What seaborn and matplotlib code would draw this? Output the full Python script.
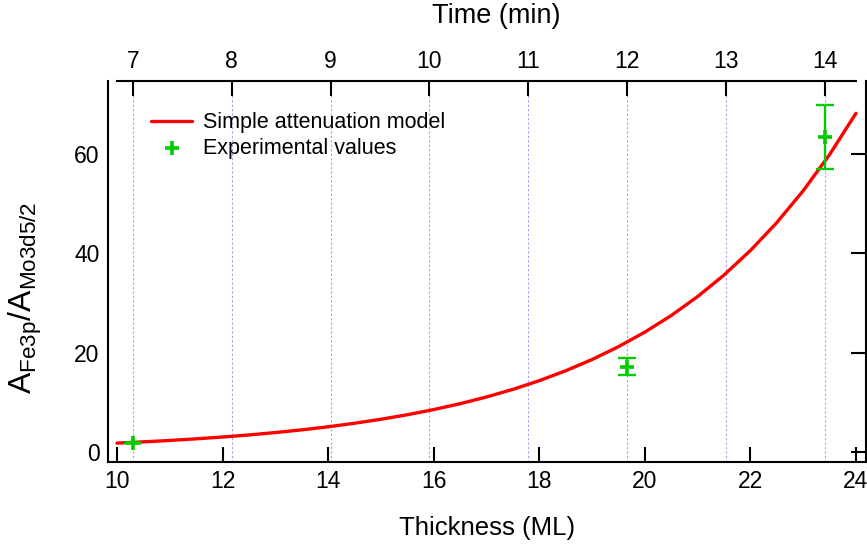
import numpy as np
import pandas as pd
import matplotlib
matplotlib.use("Agg")
import matplotlib.pyplot as plt
import seaborn as sns

# Simple attenuation model: signal ratio vs. film thickness (ML)
model_thickness = [10.0, 10.5, 11.0, 11.5, 12.0, 12.5, 13.0, 13.5, 14.0, 14.5,
                   15.0, 15.5, 16.0, 16.5, 17.0, 17.5, 18.0, 18.5, 19.0, 19.5,
                   20.0, 20.5, 21.0, 21.5, 22.0, 22.5, 23.0, 23.5, 24.0]
model_ratio = [1.80, 2.05, 2.33, 2.66, 3.02, 3.44, 3.92, 4.46, 5.08, 5.79,
               6.59, 7.50, 8.54, 9.72, 11.07, 12.60, 14.35, 16.34, 18.60, 21.18,
               24.11, 27.45, 31.26, 35.59, 40.52, 46.13, 52.53, 59.81, 68.10]

# Measured intensity ratios with uncertainties
exp_thickness = [10.30, 19.66, 23.41]
exp_ratio = [1.9, 17.2, 63.3]
exp_err = [0.0, 1.7, 6.4]

# Deposition time axis (top)
time_ticks = [7, 8, 9, 10, 11, 12, 13, 14]
thickness_at_7min = 10.303
rate_ml_per_min = 1.872

x_ticks = [10, 12, 14, 16, 18, 20, 22, 24]
y_ticks = [0, 20, 40, 60]

RED = "#ff0000"
GREEN = "#00cc00"
GRID = "#a0a0ff"

sns.set_style("white")
plt.rcParams["font.family"] = ["Liberation Sans", "DejaVu Sans"]
plt.rcParams["mathtext.fontset"] = "custom"
plt.rcParams["mathtext.rm"] = "Liberation Sans"
plt.rcParams["mathtext.it"] = "Liberation Sans:italic"
plt.rcParams["text.color"] = "black"
plt.rcParams["axes.labelcolor"] = "black"
plt.rcParams["xtick.color"] = "black"
plt.rcParams["ytick.color"] = "black"

fig = plt.figure(figsize=(8.67, 5.51), dpi=100)
ax = fig.add_axes([108 / 867, 1 - 462 / 551, 758 / 867, 381 / 551])

time_pos = [thickness_at_7min + (t - 7) * rate_ml_per_min for t in time_ticks]
for xp in time_pos:
    ax.axvline(xp, color=GRID, lw=0.8, ls=(0, (2, 2)), zorder=0)

model_df = pd.DataFrame({"thickness": model_thickness, "ratio": model_ratio})
sns.lineplot(data=model_df, x="thickness", y="ratio", ax=ax, color=RED,
             lw=2.4, label="Simple attenuation model", zorder=3)

ax.errorbar(exp_thickness, exp_ratio, yerr=exp_err, fmt="none", ecolor=GREEN,
            elinewidth=1.7, capsize=6.5, capthick=1.7, zorder=4)
exp_df = pd.DataFrame({"thickness": exp_thickness, "ratio": exp_ratio})
sns.scatterplot(data=exp_df, x="thickness", y="ratio", ax=ax, marker="+",
                s=110, color=GREEN, linewidth=2.6, label="Experimental values",
                zorder=5)

ax.set_xlim(9.83, 24.19)
ax.set_ylim(-2.0, 74.6)
ax.set_xticks(x_ticks)
ax.set_yticks(y_ticks)
ax.tick_params(axis="both", which="both", direction="in", length=11, width=1.5,
               labelsize=16.5, pad=6)
ax.tick_params(axis="y", right=True, pad=6)
ax.tick_params(axis="x", top=False)
for side in ["left", "right", "bottom"]:
    ax.spines[side].set_linewidth(1.5)
    ax.spines[side].set_color("black")
ax.spines["top"].set_visible(False)

ax.set_xlabel("Thickness (ML)", fontsize=18.5, labelpad=16)
ax.set_ylabel(r"$\mathrm{A_{Fe3p}/A_{Mo3d5/2}}$", fontsize=23)
ax.yaxis.set_label_coords(-0.085, 0.43)

leg = ax.legend(loc="upper left", bbox_to_anchor=(0.046, 0.94), frameon=False,
                fontsize=15.5, handlelength=1.9, handletextpad=0.5,
                labelspacing=0.2, borderaxespad=0)

# Top axis: deposition time
ax2 = ax.twiny()
ax2.set_xlim(ax.get_xlim())
ax2.set_xticks(time_pos)
ax2.set_xticklabels([str(t) for t in time_ticks])
ax2.tick_params(axis="x", direction="in", length=11, width=1.5, labelsize=16.5,
                pad=6)
for side in ["left", "right", "bottom"]:
    ax2.spines[side].set_visible(False)
ax2.spines["top"].set_linewidth(1.5)
ax2.spines["top"].set_color("black")
ax2.spines["top"].set_bounds(10, 24)
ax2.set_xlabel("Time (min)", fontsize=19.5)
ax2.xaxis.label.set_verticalalignment("bottom")
ax2.xaxis.set_label_coords(0.512, 1 + 52 / 381)

fig.savefig("out.png", dpi=100)
